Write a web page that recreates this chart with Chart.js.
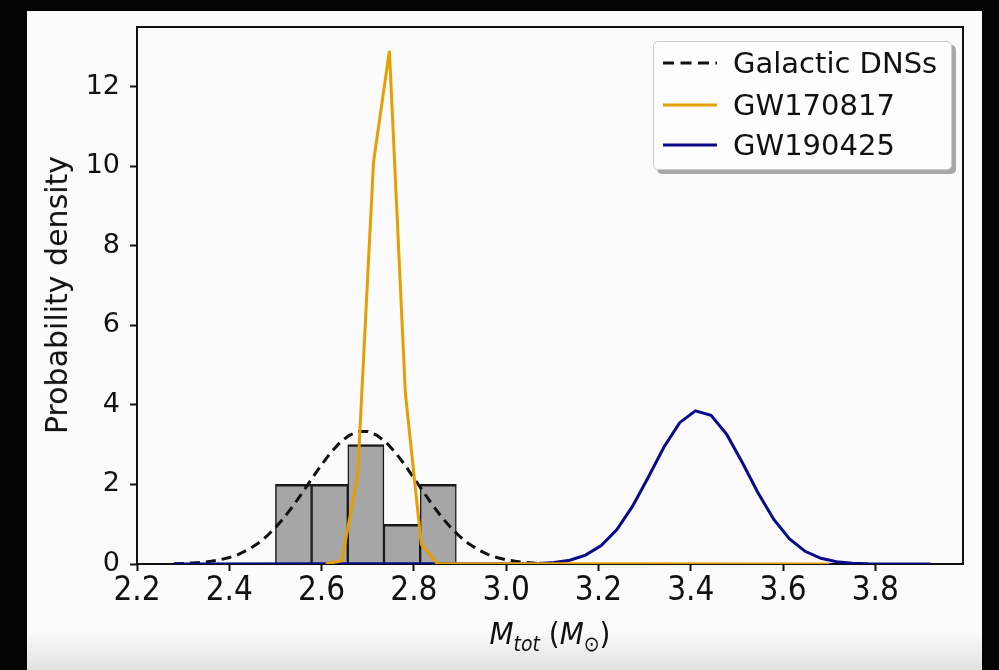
<!DOCTYPE html>
<html><head><meta charset="utf-8">
<script src="https://cdn.jsdelivr.net/npm/chart.js@4.4.0/dist/chart.umd.min.js"></script>
<style>
html,body{margin:0;padding:0;background:#030303;width:999px;height:670px;overflow:hidden;}
#panel{position:absolute;left:27px;top:11px;width:955px;height:659px;background:linear-gradient(to bottom,#fbfbfb 0%,#fbfbfb 94%,#e2e2e2 100%);}
#wrap{position:absolute;left:0;top:0;width:999px;height:670px;}
#legend{position:absolute;left:653px;top:41px;width:297px;height:127px;border:1px solid #cdcdcd;border-radius:5px;background:#fdfdfd;box-shadow:4px 4px 0 #a8a8a8;font-family:"DejaVu Sans",sans-serif;font-size:29px;color:#111;}
#legend .row{position:absolute;left:0;height:40px;line-height:40px;width:297px;}
#legend .row svg{position:absolute;left:9px;top:18px;}
#legend .row span{position:absolute;left:79px;top:0;white-space:nowrap;}
#xtitle{position:absolute;left:0;width:1100px;top:616px;height:34px;line-height:34px;text-align:center;font-family:"DejaVu Sans Condensed","DejaVu Sans",sans-serif;font-size:31px;color:#111;}
#xtitle sub{font-size:21px;vertical-align:-7px;line-height:0;}
#ytitle{position:absolute;left:57px;top:295px;transform:translate(-50%,-50%) rotate(-90deg);white-space:nowrap;font-family:"DejaVu Sans",sans-serif;font-size:30px;color:#111;line-height:34px;}
</style></head><body>
<div id="panel"></div>
<div id="wrap"><canvas id="c" width="999" height="670"></canvas></div>
<div id="legend">
 <div class="row" style="top:1px"><svg width="54" height="4"><line x1="0" y1="2" x2="54" y2="2" stroke="#111" stroke-width="3" stroke-dasharray="11,6.5"/></svg><span>Galactic DNSs</span></div>
 <div class="row" style="top:43px"><svg width="54" height="4"><line x1="0" y1="2" x2="54" y2="2" stroke="#e69f00" stroke-width="3"/></svg><span>GW170817</span></div>
 <div class="row" style="top:83px"><svg width="54" height="4"><line x1="0" y1="2" x2="54" y2="2" stroke="#0a0a8c" stroke-width="3"/></svg><span>GW190425</span></div>
</div>
<div id="xtitle"><i>M</i><sub><i>tot</i></sub> (<i>M</i><sub>⊙</sub>)</div>
<div id="ytitle">Probability density</div>
<script>
// ---- data ----
const xTicks = [2.2, 2.4, 2.6, 2.8, 3.0, 3.2, 3.4, 3.6, 3.8];
const yTicks = [0, 2, 4, 6, 8, 10, 12];

const histCenters = [2.5392, 2.6176, 2.6960, 2.7744, 2.8528];
const histHeights = [2, 2, 3, 1, 2];

const dnsX = [2.28,2.30,2.32,2.34,2.36,2.38,2.40,2.42,2.44,2.46,2.48,2.50,2.52,2.54,2.56,2.58,2.60,2.62,2.64,2.66,2.68,2.70,2.72,2.74,2.76,2.78,2.80,2.82,2.84,2.86,2.88,2.90,2.92,2.94,2.96,2.98,3.00,3.02,3.04,3.06,3.08,3.10];
const dnsY = [0.008,0.014,0.025,0.042,0.067,0.106,0.163,0.243,0.354,0.500,0.686,0.915,1.184,1.489,1.822,2.165,2.499,2.803,3.056,3.237,3.331,3.331,3.237,3.056,2.803,2.499,2.165,1.822,1.489,1.184,0.915,0.686,0.500,0.354,0.243,0.163,0.106,0.067,0.042,0.025,0.014,0.008];

const gw17X = [2.609, 2.6435, 2.678, 2.7125, 2.747, 2.7815, 2.816, 2.8505, 3.70];
const gw17Y = [0, 0.08, 2.2, 10.1, 12.9, 4.3, 0.5, 0.01, 0];

const gw19X = [2.28,3.070,3.104,3.138,3.172,3.206,3.240,3.274,3.308,3.342,3.376,3.410,3.444,3.478,3.512,3.546,3.580,3.614,3.648,3.682,3.716,3.750,3.784,3.818,3.852,3.886,3.920];
const gw19Y = [0,0.013,0.036,0.095,0.223,0.465,0.868,1.453,2.183,2.941,3.553,3.850,3.740,3.258,2.546,1.784,1.121,0.632,0.319,0.144,0.059,0.021,0.007,0.002,0.001,0,0];

const pts = (xs, ys) => xs.map((x, i) => ({x: x, y: ys[i]}));

const frame = {
  id: 'frame',
  beforeDatasetsDraw(chart) {
    const {ctx, chartArea: a} = chart;
    ctx.save();
    ctx.strokeStyle = '#111';
    ctx.lineWidth = 2;
    ctx.strokeRect(a.left, a.top, a.right - a.left, a.bottom - a.top);
    ctx.restore();
  }
};

new Chart(document.getElementById('c'), {
  type: 'bar',
  data: {
    datasets: [
      {type: 'bar', label: 'hist', data: pts(histCenters, histHeights),
       backgroundColor: '#a6a6a6', borderColor: '#1a1a1a',
       borderWidth: {top: 2.5, left: 1.5, right: 1.5, bottom: 0}, borderSkipped: false,
       barPercentage: 1, categoryPercentage: 1, order: 4},
      {type: 'line', label: 'Galactic DNSs', data: pts(dnsX, dnsY), borderColor: '#111',
       borderWidth: 3, borderDash: [10, 6], pointRadius: 0, tension: 0, fill: false, order: 3},
      {type: 'line', label: 'GW190425', data: pts(gw19X, gw19Y), borderColor: '#0a0a8c',
       borderWidth: 3, pointRadius: 0, tension: 0, fill: false, order: 2},
      {type: 'line', label: 'GW170817', data: pts(gw17X, gw17Y), borderColor: '#e69f00',
       borderWidth: 3, pointRadius: 0, tension: 0, fill: false, order: 1}
    ]
  },
  options: {
    responsive: false,
    animation: false,
    devicePixelRatio: 1,
    layout: {padding: {left: 0, top: 27, right: 36, bottom: 0}},
    plugins: {legend: {display: false}, tooltip: {enabled: false}},
    scales: {
      x: {
        type: 'linear', min: 2.2, max: 3.99, offset: false,
        afterBuildTicks: s => { s.ticks = xTicks.map(v => ({value: v})); },
        afterFit: s => { s.height = 106; },
        grid: {display: true, drawOnChartArea: false, drawTicks: true, tickLength: 7, tickWidth: 2, tickColor: '#111', offset: false},
        border: {display: false},
        ticks: {autoSkip: false, maxRotation: 0, padding: 1, color: '#111',
                font: {family: '"DejaVu Sans Condensed", "DejaVu Sans"', size: 33},
                callback: v => Number(v).toFixed(1)}
      },
      y: {
        type: 'linear', min: 0, max: 13.5,
        afterBuildTicks: s => { s.ticks = yTicks.map(v => ({value: v})); },
        afterFit: s => { s.width = 137; },
        grid: {display: true, drawOnChartArea: false, drawTicks: true, tickLength: 7, tickWidth: 2, tickColor: '#111'},
        border: {display: false},
        ticks: {padding: 10, color: '#111', font: {family: '"DejaVu Sans"', size: 27},
                callback: v => String(v)}
      }
    }
  },
  plugins: [frame]
});
</script>
</body></html>
